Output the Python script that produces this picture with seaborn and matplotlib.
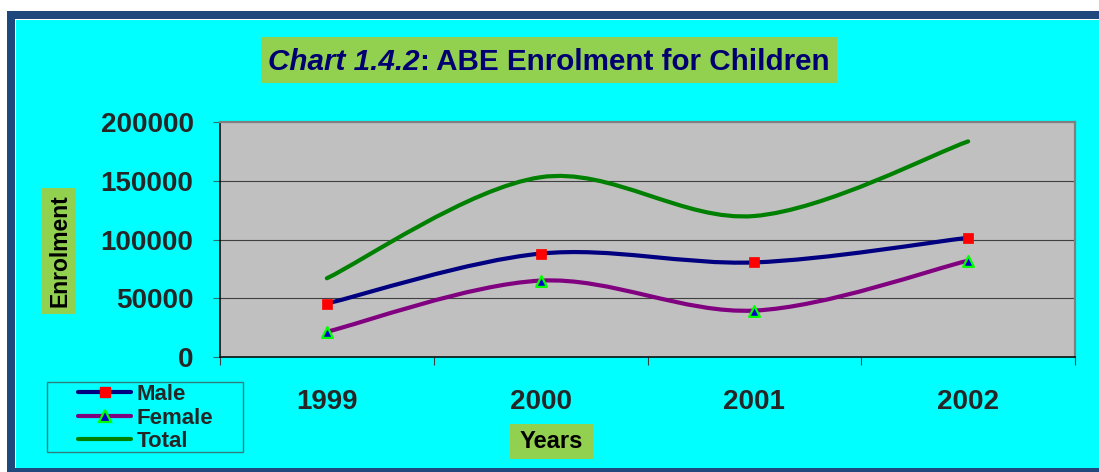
import numpy as np
import pandas as pd
import matplotlib
matplotlib.use("Agg")
import matplotlib.pyplot as plt
import seaborn as sns
from matplotlib.path import Path
from matplotlib.patches import PathPatch, Rectangle
from matplotlib.lines import Line2D

# ---- data ----
years = ["1999", "2000", "2001", "2002"]
male = [45500, 88000, 80500, 101500]
female = [21500, 65000, 39500, 82000]
total = [67000, 153000, 120000, 183500]
y_ticks = [0, 50000, 100000, 150000, 200000]
series_names = ["Male", "Female", "Total"]

sns.set_style("white")
plt.rcParams["font.family"] = ["Liberation Sans", "DejaVu Sans"]
plt.rcParams["font.weight"] = "bold"

W, H = 1099, 472
fig = plt.figure(figsize=(W / 100, H / 100), dpi=100, facecolor="white")


def px_rect(x0, y0, x1, y1, z, **kw):
    r = Rectangle((x0 / W, 1 - y1 / H), (x1 - x0) / W, (y1 - y0) / H,
                  transform=fig.transFigure, zorder=z, **kw)
    fig.add_artist(r)
    return r


# background frame
px_rect(7, 11, 1120, 500, -5, facecolor="#1F487C", edgecolor="none")
px_rect(15, 19, 1120, 468, -4, facecolor="white", edgecolor="none")
px_rect(16, 20, 1120, 468, -3, facecolor="#00FFFF", edgecolor="none")

# ---- axes ----
ax = fig.add_axes([220 / W, 1 - 357 / H, 855 / W, 235 / H])
ax.set_facecolor("#C0C0C0")

df = pd.DataFrame({"Year": years, "x": np.arange(len(years)),
                   "Male": male, "Female": female, "Total": total})


def smooth_patch(xs, ys, color):
    pts = np.column_stack([xs, ys]).astype(float)
    n = len(pts)
    verts = [tuple(pts[0])]
    codes = [Path.MOVETO]
    for i in range(n - 1):
        pm = pts[i - 1] if i > 0 else pts[i]
        p0, p1 = pts[i], pts[i + 1]
        p2 = pts[i + 2] if i + 2 < n else pts[i + 1]
        c1 = p0 + (p1 - pm) / 6.0
        c2 = p1 - (p2 - p0) / 6.0
        verts += [tuple(c1), tuple(c2), tuple(p1)]
        codes += [Path.CURVE4] * 3
    patch = PathPatch(Path(verts, codes), facecolor="none", edgecolor=color,
                      lw=3.0, capstyle="round", joinstyle="round",
                      transform=ax.transData, zorder=3)
    ax.add_patch(patch)


line_colors = {"Male": "#000080", "Female": "#800080", "Total": "#008000"}
for name in series_names:
    smooth_patch(df["x"], df[name], line_colors[name])

sns.scatterplot(data=df, x="x", y="Male", marker="s", s=55, color="#FF0000",
                edgecolor="#FF0000", linewidth=0.5, ax=ax, zorder=5, legend=False)
sns.scatterplot(data=df, x="x", y="Female", marker="^", s=60, color="#0000CD",
                edgecolor="#00FF00", linewidth=1.6, ax=ax, zorder=5, legend=False)

ax.set_xlim(-0.5, len(years) - 0.5)
ax.set_ylim(0, 200000)
ax.set_xlabel("")
ax.set_ylabel("")

ax.set_yticks(y_ticks)
ax.set_yticklabels([str(v) for v in y_ticks], fontsize=20, fontweight="bold")
ax.set_xticks(df["x"])
ax.set_xticklabels(years, fontsize=20, fontweight="bold")
ax.set_xticks(np.arange(-0.5, len(years)), minor=True)
ax.tick_params(axis="x", which="major", length=0, pad=23)
ax.tick_params(axis="x", which="minor", length=6, width=0.8, color="#404040",
               direction="out", bottom=True)
ax.tick_params(axis="y", which="major", length=5, width=0.8, color="#2F6F6F",
               direction="out", pad=14, left=True)

for v in y_ticks[1:-1]:
    ax.axhline(v, color="#404040", lw=0.8, zorder=1)

for s in ["top", "right"]:
    ax.spines[s].set_color("#808080")
    ax.spines[s].set_linewidth(1.6)
for s in ["left", "bottom"]:
    ax.spines[s].set_color("#000000")
    ax.spines[s].set_linewidth(1.1)
    ax.spines[s].set_visible(True)

# ---- title with green box ----
px_rect(261, 37, 837, 83, -1, facecolor="#92D050", edgecolor="none")
renderer = fig.canvas.get_renderer()
pieces = [("Chart 1.4.2", "italic"), (":", "normal"),
          (" ABE Enrolment for Children", "normal")]
texts = []
for s, st in pieces:
    t = fig.text(0, 1 - 62 / H, s, fontsize=21.3, fontweight="bold", style=st,
                 color="#000070", va="center", ha="left")
    texts.append(t)
widths = [t.get_window_extent(renderer).width for t in texts]
x0 = 549 - sum(widths) / 2
for t, w in zip(texts, widths):
    t.set_x(x0 / W)
    x0 += w

# ---- axis labels with green boxes ----
px_rect(42, 188, 76, 314, -1, facecolor="#92D050", edgecolor="none")
fig.text(60 / W, 1 - 251 / H, "Enrolment", rotation=90, fontsize=16.5,
         fontweight="bold", color="black", ha="center", va="center")
px_rect(510, 424, 593, 459, -1, facecolor="#92D050", edgecolor="none")
fig.text(551 / W, 1 - 442 / H, "Years", fontsize=17, fontweight="bold",
         color="black", ha="center", va="center")

# ---- legend ----
handles = [
    Line2D([], [], color="#000080", lw=3, marker="s", markersize=7,
           markerfacecolor="#FF0000", markeredgecolor="#FF0000"),
    Line2D([], [], color="#800080", lw=3, marker="^", markersize=8,
           markerfacecolor="#0000CD", markeredgecolor="#00FF00", markeredgewidth=1.6),
    Line2D([], [], color="#008000", lw=3),
]
fig.legend(handles, series_names, loc="center left",
           bbox_to_anchor=(78 / W, 1 - 418 / H), frameon=False, borderpad=0,
           borderaxespad=0, handlelength=2.4, handletextpad=0.25,
           labelspacing=0.12, prop={"size": 16, "weight": "bold"})
px_rect(47, 382, 243, 452, -1, facecolor="none", edgecolor="#2F7F7F", lw=1.0)

fig.savefig("out.png", dpi=100, facecolor="white")
